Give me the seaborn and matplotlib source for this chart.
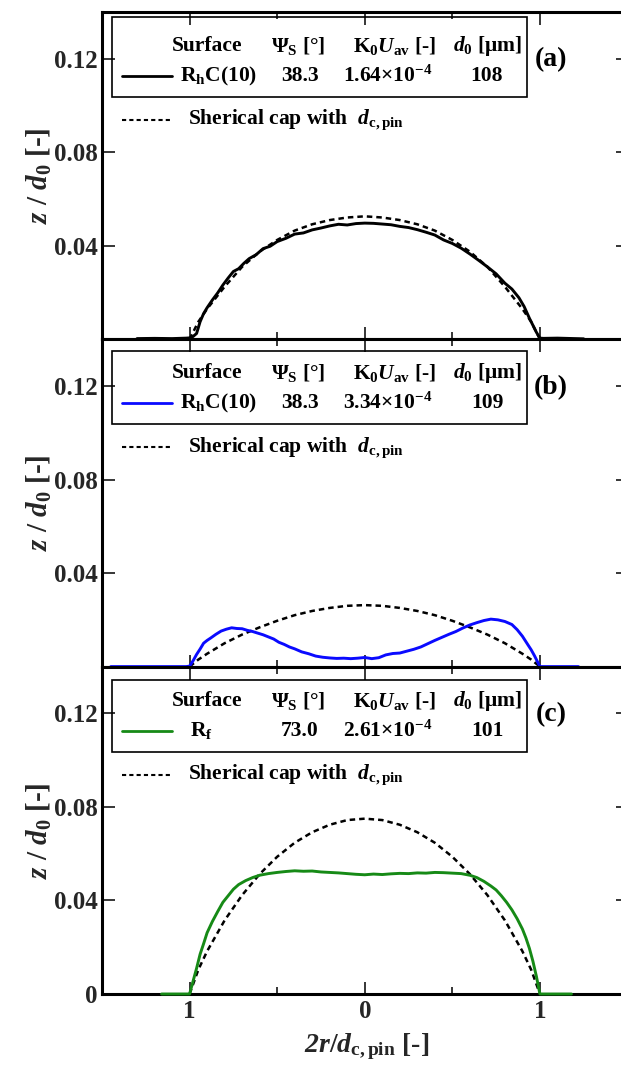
import matplotlib
matplotlib.use("Agg")
import matplotlib.pyplot as plt
from matplotlib.patches import Rectangle
import seaborn as sns

# ---- profile data ----
# (a) RhC(10), K0Uav = 1.64e-4
x_a = [-1.30, -1.20, -1.10, -1.02, -1.00, -0.98, -0.96, -0.94, -0.92, -0.90, -0.87, -0.84,
       -0.81, -0.78, -0.75, -0.72, -0.69, -0.66, -0.62, -0.58, -0.54, -0.50, -0.45, -0.40,
       -0.35, -0.30, -0.25, -0.20, -0.15, -0.10, -0.05, 0.00, 0.05, 0.10, 0.15, 0.20, 0.25,
       0.30, 0.35, 0.40, 0.45, 0.50, 0.55, 0.60, 0.65, 0.70, 0.75, 0.80, 0.84, 0.88, 0.91,
       0.94, 0.96, 0.98, 1.00, 1.02, 1.10, 1.20, 1.25]
z_a = [0.0003, 0.0004, 0.0003, 0.0005, 0.0006, 0.0012, 0.0025, 0.0075, 0.0110, 0.0135, 0.0168,
       0.0198, 0.0232, 0.0262, 0.0290, 0.0302, 0.0325, 0.0345, 0.0362, 0.0388, 0.0398, 0.0418,
       0.0432, 0.0450, 0.0455, 0.0468, 0.0476, 0.0485, 0.0492, 0.0489, 0.0495, 0.0497, 0.0496,
       0.0493, 0.0490, 0.0483, 0.0478, 0.0469, 0.0458, 0.0446, 0.0425, 0.0410, 0.0390, 0.0365,
       0.0338, 0.0310, 0.0280, 0.0240, 0.0215, 0.0178, 0.0140, 0.0090, 0.0060, 0.0030, 0.0005,
       0.0004, 0.0005, 0.0003, 0.0002]

# (b) RhC(10), K0Uav = 3.34e-4
x_b = [-1.45, -1.20, -1.02, -1.00, -0.98, -0.96, -0.94, -0.92, -0.90, -0.88, -0.85, -0.82,
       -0.79, -0.76, -0.73, -0.70, -0.67, -0.64, -0.61, -0.58, -0.55, -0.52, -0.49, -0.46,
       -0.43, -0.40, -0.36, -0.32, -0.28, -0.24, -0.20, -0.16, -0.12, -0.08, -0.04, 0.00,
       0.04, 0.08, 0.12, 0.16, 0.20, 0.24, 0.28, 0.32, 0.36, 0.40, 0.44, 0.48, 0.52, 0.56,
       0.60, 0.64, 0.68, 0.72, 0.76, 0.80, 0.84, 0.87, 0.90, 0.93, 0.95, 0.97, 0.99, 1.00,
       1.05, 1.22]
z_b = [0.0, 0.0, 0.0, 0.0002, 0.0025, 0.0052, 0.0075, 0.0100, 0.0112, 0.0122, 0.0138, 0.0152,
       0.0160, 0.0166, 0.0163, 0.0162, 0.0155, 0.0150, 0.0143, 0.0136, 0.0127, 0.0118, 0.0104,
       0.0095, 0.0084, 0.0076, 0.0063, 0.0055, 0.0045, 0.0040, 0.0037, 0.0035, 0.0036, 0.0034,
       0.0036, 0.0039, 0.0034, 0.0038, 0.0050, 0.0056, 0.0058, 0.0066, 0.0074, 0.0084, 0.0098,
       0.0112, 0.0125, 0.0138, 0.0150, 0.0165, 0.0178, 0.0188, 0.0197, 0.0203, 0.0200, 0.0193,
       0.0180, 0.0158, 0.0130, 0.0095, 0.0072, 0.0045, 0.0015, 0.0, 0.0, 0.0]

# (c) Rf, K0Uav = 2.61e-4
x_c = [-1.16, -1.05, -1.00, -0.98, -0.96, -0.94, -0.92, -0.90, -0.87, -0.84, -0.81, -0.78,
       -0.75, -0.72, -0.68, -0.64, -0.60, -0.55, -0.50, -0.45, -0.40, -0.35, -0.30, -0.25,
       -0.20, -0.15, -0.10, -0.05, 0.00, 0.05, 0.10, 0.15, 0.20, 0.25, 0.30, 0.35, 0.40,
       0.45, 0.50, 0.55, 0.60, 0.64, 0.68, 0.72, 0.75, 0.78, 0.81, 0.84, 0.87, 0.90, 0.92,
       0.94, 0.96, 0.98, 1.00, 1.05, 1.18]
z_c = [0.0, 0.0, 0.0, 0.0055, 0.0110, 0.0170, 0.0215, 0.0262, 0.0310, 0.0352, 0.0392, 0.0420,
       0.0448, 0.0468, 0.0485, 0.0498, 0.0508, 0.0515, 0.0520, 0.0524, 0.0527, 0.0525, 0.0526,
       0.0522, 0.0520, 0.0518, 0.0515, 0.0512, 0.0510, 0.0513, 0.0511, 0.0514, 0.0516, 0.0515,
       0.0518, 0.0517, 0.0520, 0.0519, 0.0517, 0.0515, 0.0508, 0.0498, 0.0482, 0.0462, 0.0445,
       0.0420, 0.0392, 0.0360, 0.0322, 0.0278, 0.0240, 0.0195, 0.0140, 0.0075, 0.0, 0.0, 0.0]

# spherical caps with d_c,pin
cap_x = [-1.0, -0.95, -0.9, -0.8, -0.7, -0.6, -0.5, -0.4, -0.3, -0.2, -0.1, 0.0,
         0.1, 0.2, 0.3, 0.4, 0.5, 0.6, 0.7, 0.8, 0.9, 0.95, 1.0]
cap_a = [0.0, 0.0075, 0.0130, 0.0225, 0.0310, 0.0375, 0.0425, 0.0465, 0.0492, 0.0510, 0.0521,
         0.0526, 0.0521, 0.0510, 0.0492, 0.0465, 0.0425, 0.0375, 0.0310, 0.0225, 0.0130, 0.0075, 0.0]
cap_b = [0.0, 0.0030, 0.0055, 0.0100, 0.0137, 0.0168, 0.0196, 0.0220, 0.0238, 0.0251, 0.0260,
         0.0263, 0.0260, 0.0251, 0.0238, 0.0220, 0.0196, 0.0168, 0.0137, 0.0100, 0.0055, 0.0030, 0.0]
cap_c = [0.0, 0.0104, 0.0183, 0.0315, 0.0423, 0.0513, 0.0587, 0.0647, 0.0692, 0.0724, 0.0744,
         0.0750, 0.0744, 0.0724, 0.0692, 0.0647, 0.0587, 0.0513, 0.0423, 0.0315, 0.0183, 0.0104, 0.0]

# legend table entries
panel_tags = ["(a)", "(b)", "(c)"]
surfaces = [r"R$_{\mathrm{h}}$C(10)", r"R$_{\mathrm{h}}$C(10)", r"R$_{\mathrm{f}}$"]
psi_s = ["38.3", "38.3", "73.0"]
k0_uav = [r"1.64×10$^{-4}$", r"3.34×10$^{-4}$", r"2.61×10$^{-4}$"]
d0_um = ["108", "109", "101"]
line_colors = ["black", "#0a0aff", "#168a16"]

profiles_x = [x_a, x_b, x_c]
profiles_z = [z_a, z_b, z_c]
caps = [cap_a, cap_b, cap_c]

sns.set_theme(style="ticks")
plt.rcParams.update({
    "font.family": ["Liberation Serif", "DejaVu Serif"],
    "font.weight": "bold",
    "mathtext.fontset": "custom",
    "mathtext.rm": "Liberation Serif:bold",
    "mathtext.it": "Liberation Serif:italic:bold",
    # \mathbf is used only for the italic "2" of the x label
    "mathtext.bf": "Liberation Serif:italic:bold",
    "axes.linewidth": 2.2,
    "text.color": "black",
})

W, H = 621, 1070
fig = plt.figure(figsize=(W / 100, H / 100), dpi=100)

ax_left, ax_right = 102, 627.5
panel_top = [12, 339.3, 666.7]
panel_h = 327.3
box_top_off = [5, 12, 13]


def fx(px):
    return (px - ax_left) / (ax_right - ax_left)


def fy(off):
    return 1 - off / panel_h


for i in range(3):
    top = panel_top[i]
    ax = fig.add_axes([ax_left / W, 1 - (top + panel_h) / H,
                       (ax_right - ax_left) / W, panel_h / H])
    sns.lineplot(x=cap_x, y=caps[i], ax=ax, color="black", lw=1.8,
                 linestyle=(0, (2.2, 1.6)), sort=False, estimator=None, zorder=3)
    sns.lineplot(x=profiles_x[i], y=profiles_z[i], ax=ax, color=line_colors[i], lw=2.1,
                 sort=False, estimator=None, zorder=4, clip_on=False)

    ax.set_xlim(-1.5, 1.5)
    ax.set_ylim(0, 0.14)
    ax.set_xticks([-1, 0, 1])
    ax.set_xticks([-0.5, 0.5], minor=True)
    ax.set_yticks([0, 0.04, 0.08, 0.12])
    if i == 2:
        ax.set_xticklabels(["1", "0", "1"])
        ax.set_yticklabels(["0", "0.04", "0.08", "0.12"])
        ax.set_xlabel(r"$\mathbf{2}r/d_{\mathrm{c,pin}}$ [-]", fontsize=20, fontweight="bold")
        ax.xaxis.set_label_coords(0.504, -0.16)
        ax.xaxis.label.set_va("center")
    else:
        ax.set_xticklabels([])
        ax.set_yticklabels(["", "0.04", "0.08", "0.12"])
        ax.set_xlabel("")
    ax.tick_params(which="both", direction="in", top=True, right=True, width=1.3,
                   labelsize=18, pad=4)
    ax.tick_params(which="major", length=9)
    ax.tick_params(which="minor", length=5)
    ax.tick_params(axis="y", pad=3)
    for spine in ax.spines.values():
        spine.set_visible(True)
        spine.set_color("black")
    ax.set_ylabel(r"$z$ / $d_0$ [-]", fontsize=21, fontweight="bold")
    ax.yaxis.set_label_coords(-0.12, 0.5)
    ax.yaxis.label.set_va("center")

    # table-style legend
    box_y0 = fy(85)
    box_y1 = fy(box_top_off[i])
    ax.add_patch(Rectangle((fx(112), box_y0), fx(527) - fx(112), box_y1 - box_y0,
                           transform=ax.transAxes, fill=False, lw=1.2,
                           edgecolor="black", zorder=5, clip_on=False))
    fs = 15.5
    hy = fy(34)
    ry = fy(64)
    dy = fy(108)
    kw = dict(transform=ax.transAxes, fontsize=fs, fontweight="bold", va="center", zorder=6)
    ax.text(fx(207), hy, "Surface", ha="center", **kw)
    ax.text(fx(298), hy, r"$\Psi_{\mathrm{S}}$ [°]", ha="center", **kw)
    ax.text(fx(395), hy, r"K$_0$$U_{\mathrm{av}}$ [-]", ha="center", **kw)
    ax.text(fx(487), hy, r"$d_0$ [μm]", ha="center", **kw)
    ax.plot([fx(122), fx(172)], [ry, ry], transform=ax.transAxes, color=line_colors[i],
            lw=2.0, clip_on=False, zorder=6)
    ax.text(fx(180 if i < 2 else 190), ry, surfaces[i], ha="left", **kw)
    ax.text(fx(300), ry, psi_s[i], ha="center", **kw)
    ax.text(fx(388), ry, k0_uav[i], ha="center", **kw)
    ax.text(fx(487), ry, d0_um[i], ha="center", **kw)
    ax.plot([fx(122), fx(170)], [dy, dy], transform=ax.transAxes, color="black",
            lw=1.5, linestyle=(0, (2.0, 1.5)), clip_on=False, zorder=6)
    ax.text(fx(188), dy, r"Sherical cap with  $d_{\mathrm{c,pin}}$", ha="left", **kw)
    ax.text(fx(551), fy(48), panel_tags[i], ha="center", transform=ax.transAxes,
            fontsize=20, fontweight="bold", va="center")

fig.savefig("out.png", dpi=100)
